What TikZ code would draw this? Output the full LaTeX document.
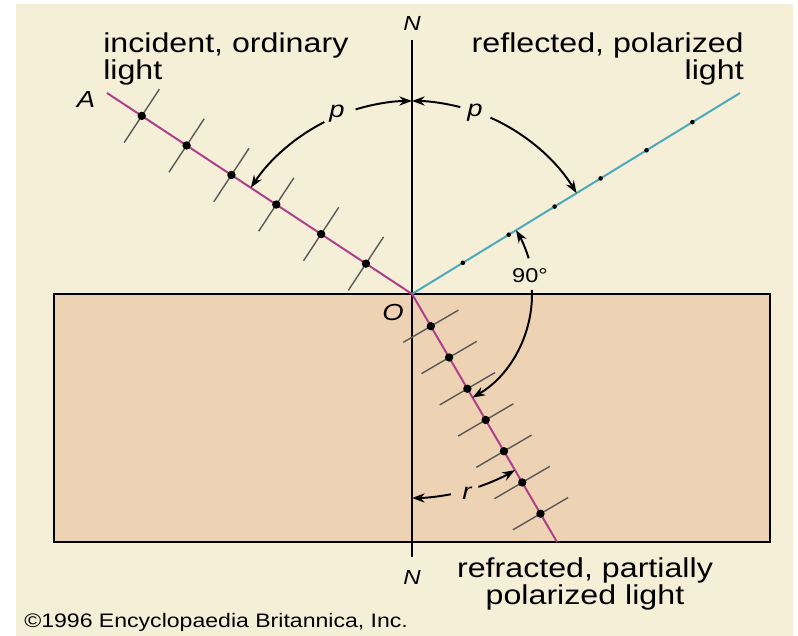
\documentclass[tikz,border=0pt]{standalone}
\usepackage{fontspec}
\setmainfont{Liberation Sans}[FakeStretch=1.18]
\usetikzlibrary{arrows.meta,calc,positioning}

\definecolor{paper}{HTML}{F6EFD8}
\definecolor{glass}{HTML}{EDD3B4}
\definecolor{rayred}{HTML}{AE3D8A}
\definecolor{rayblue}{HTML}{4AA9BA}

\tikzset{
  lbl/.style={font=\fontsize{19.4}{19.4}\selectfont, inner sep=0pt},
  sym/.style={font=\fontsize{16.5}{16.5}\selectfont\itshape, inner sep=0pt},
  angarrow/.style={line width=1.4pt, -{Stealth[length=9pt,width=6.5pt]}},
  tickline/.style={line width=1pt, black!65},
}

\begin{document}
\begin{tikzpicture}[x=0.025cm,y=0.025cm]
    \useasboundingbox (0,0) rectangle (798,636);
    \fill[paper] (16,0) rectangle (793,632);

    % Glass block
    \draw[fill=glass, line width=1.4pt] (54,94) rectangle (770,342);

    % Points
    \coordinate (O) at (412,342);
    \coordinate (A) at (107,543);
    \coordinate (R) at (740,543);
    \coordinate (B) at (557,94);
    \coordinate (Ntop) at (412,596);
    \coordinate (Nbot) at (412,79);

    % Normal
    \draw[line width=1.4pt] (Ntop) -- (Nbot);
    \node[sym, font=\fontsize{14.5}{14.5}\selectfont\itshape] (Nup) at (412,613) {N};
    \node[sym, font=\fontsize{14.5}{14.5}\selectfont\itshape] (Ndown) at (412,59) {N};
    \node[sym] (Alab) at (86,536) {A};
    \node[sym] (Olab) at (393,323) {O};

    % Incident ray (unpolarized)
    \draw[rayred, line width=1.4pt] (A) -- (O);
    \foreach \t in {0.151,0.298,0.445,0.592,0.739,0.886} {
        \coordinate (d) at ($(O)!\t!(A)$);
        \draw[tickline] ($(d)!0.8cm!90:(O)$) -- ($(d)!0.8cm!-90:(O)$);
        \fill (d) circle (4.2);
    }

    % Reflected ray (polarized)
    \draw[rayblue, line width=1.4pt] (O) -- (R);
    \foreach \t in {0.155,0.295,0.435,0.575,0.715,0.855} {
        \fill ($(O)!\t!(R)$) circle (2.3);
    }

    % Refracted ray (partially polarized)
    \draw[rayred, line width=1.4pt] (O) -- (B);
    \foreach \t in {0.13,0.256,0.382,0.508,0.634,0.76,0.886} {
        \coordinate (d) at ($(O)!\t!(B)$);
        \draw[tickline] ($(d)!0.8cm!90:(O)$) -- ($(d)!0.8cm!-90:(O)$);
        \fill (d) circle (4.2);
    }

    % Angle p (incidence)
    \draw[angarrow] (O) ++(107:193) arc (107:90:193);
    \draw[angarrow] (O) ++(117:193) arc (117:146.6:193);
    \node[sym] (pin) at (337,522) {p};

    % Angle p (reflection)
    \draw[angarrow] (O) ++(75.5:193) arc (75.5:90:193);
    \draw[angarrow] (O) ++(66:193) arc (66:31.5:193);
    \node[sym] (pout) at (475,523) {p};

    % Right angle between reflected and refracted
    \draw[angarrow] (O) ++(17:122) arc (17:31.5:122);
    \draw[angarrow] (O) ++(2:120) arc (2:-59.7:120);
    \node[sym, font=\fontsize{14.2}{14.2}\selectfont] (right) at (530,360) {90°};

    % Angle r (refraction)
    \draw[angarrow] (O) ++(-79:204) arc (-79:-90:204);
    \draw[angarrow] (O) ++(-71:204) arc (-71:-59.7:204);
    \node[sym] (rlab) at (467,143) {r};

    % Captions
    \node[lbl, align=left, anchor=north west] (inc) at (103,604) {incident, ordinary\\light};
    \node[lbl, align=right, anchor=north east] (refl) at (744,604) {reflected, polarized\\light};
    \node[lbl, align=center, anchor=north] (refr) at (585,79) {refracted, partially\\polarized light};
    \node[anchor=west, inner sep=0pt, font=\fontsize{13.9}{13.9}\selectfont] (copy) at (24,14) {©1996 Encyclopaedia Britannica, Inc.};
\end{tikzpicture}
\end{document}
